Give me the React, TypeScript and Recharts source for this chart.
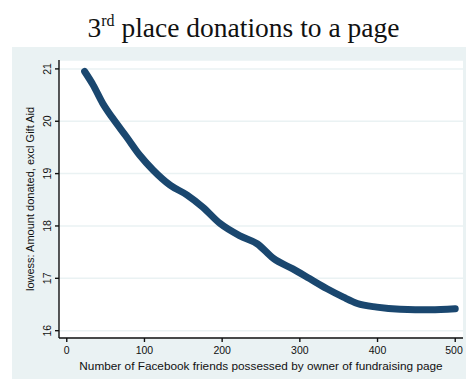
import { LineChart, Line, XAxis, YAxis, CartesianGrid } from 'recharts';

// lowess smooth of 3rd-place donation amount against friend count
const friends = [
  23, 34, 46, 59, 77, 94, 111, 133, 155, 175, 197, 223, 245, 266, 291, 313, 335,
  356, 374, 399, 429, 468, 500,
];
const amounts = [
  20.95, 20.69, 20.35, 20.06, 19.7, 19.35, 19.07, 18.78, 18.59, 18.36, 18.05,
  17.81, 17.66, 17.38, 17.18, 16.99, 16.8, 16.64, 16.52, 16.45, 16.41, 16.4,
  16.42,
];
const xTicks = [0, 100, 200, 300, 400, 500];
const yTicks = [16, 17, 18, 19, 20, 21];

const data = friends.map((f, i) => ({ friends: f, amount: amounts[i] }));

const NAVY = '#1a476f';
const PANEL = '#eaf2f3';
const SANS = '"Liberation Sans", Arial, sans-serif';

function XTick(props: any) {
  const { x, y, payload } = props;
  return (
    <text x={x} y={y + 10} textAnchor="middle" fontFamily={SANS} fontSize={10.5} fill="#111">
      {payload.value}
    </text>
  );
}

function YTick(props: any) {
  const { x, y, payload } = props;
  const tx = x - 2;
  return (
    <text
      x={tx}
      y={y}
      transform={`rotate(-90 ${tx} ${y})`}
      textAnchor="middle"
      fontFamily={SANS}
      fontSize={10.5}
      fill="#111"
    >
      {payload.value}
    </text>
  );
}

export default function App() {
  return (
    <div style={{ position: 'absolute', left: 0, top: 0, width: 466, height: 379, background: '#fff' }}>
      <div style={{ position: 'absolute', left: 12, top: 47, width: 454, height: 332, background: PANEL }} />
      <div
        style={{
          position: 'absolute',
          left: 0,
          top: 10,
          width: 487,
          textAlign: 'center',
          fontFamily: '"Liberation Serif", "Times New Roman", serif',
          fontSize: 27.5,
          lineHeight: '36px',
          color: '#111',
          whiteSpace: 'nowrap',
        }}
      >
        3<sup style={{ fontSize: 16, verticalAlign: 'top', lineHeight: '22px' }}>rd</sup> place donations to a page
      </div>
      <div style={{ position: 'absolute', left: 0, top: 0 }}>
        <LineChart width={466} height={379} data={data} margin={{ top: 60, right: 3, bottom: 0, left: 12 }}>
          <CartesianGrid vertical={false} fill="#fff" stroke={PANEL} strokeWidth={1.5} />
          <XAxis
            dataKey="friends"
            type="number"
            domain={[-10, 510]}
            ticks={xTicks}
            allowDataOverflow
            height={41}
            tickSize={4}
            tickMargin={2}
            axisLine={{ stroke: '#111', strokeWidth: 1.4 }}
            tickLine={{ stroke: '#111', strokeWidth: 1.4 }}
            tick={<XTick />}
            label={{
              value: 'Number of Facebook friends possessed by owner of fundraising page',
              position: 'insideBottom',
              offset: 9,
              fontFamily: SANS,
              fontSize: 11.8,
              fill: '#111',
            }}
          />
          <YAxis
            type="number"
            domain={[15.86, 21.17]}
            ticks={yTicks}
            allowDataOverflow
            width={47}
            tickSize={4}
            tickMargin={2}
            axisLine={{ stroke: '#111', strokeWidth: 1.4 }}
            tickLine={{ stroke: '#111', strokeWidth: 1.4 }}
            tick={<YTick />}
            label={{
              value: 'lowess: Amount donated, excl Gift Aid',
              angle: -90,
              position: 'insideLeft',
              offset: 18,
              fontFamily: SANS,
              fontSize: 11,
              fill: '#111',
              style: { textAnchor: 'middle' },
            }}
          />
          <Line
            type="monotone"
            dataKey="amount"
            stroke={NAVY}
            strokeWidth={7}
            strokeLinecap="round"
            dot={false}
            isAnimationActive={false}
          />
        </LineChart>
      </div>
    </div>
  );
}
